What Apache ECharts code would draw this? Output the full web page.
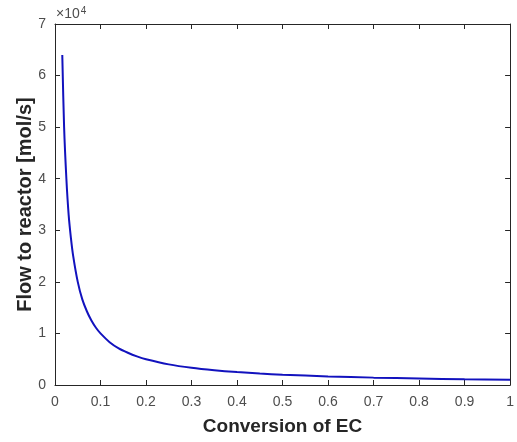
<!DOCTYPE html>
<html><head><meta charset="utf-8">
<script src="https://cdn.jsdelivr.net/npm/echarts@6/dist/echarts.min.js"></script>
<style>html,body{margin:0;padding:0;background:#fff}#c{width:517px;height:442px}</style>
</head><body><div id="c"></div>
<script>
const conversion = [0.016, 0.02, 0.025, 0.03, 0.035, 0.04, 0.05, 0.06, 0.07, 0.08, 0.09, 0.1, 0.12, 0.14, 0.16, 0.18, 0.2, 0.25, 0.3, 0.35, 0.4, 0.45, 0.5, 0.6, 0.7, 0.8, 0.9, 1.0];
const flow = [64000, 50000, 40000, 33000, 28500, 25000, 20000, 16600, 14300, 12500, 11100, 10000, 8300, 7100, 6250, 5550, 5000, 4000, 3330, 2860, 2500, 2220, 2000, 1670, 1430, 1250, 1110, 1000];
const xTicks = ['0','0.1','0.2','0.3','0.4','0.5','0.6','0.7','0.8','0.9','1'];
const yTicks = ['0','1','2','3','4','5','6','7'];

const axisColor = '#262626';
const labelColor = '#4d4d4d';
const font = 'Liberation Sans, Arial, sans-serif';
const chart = echarts.init(document.getElementById('c'));
const common = {
  axisLine: {show: true, onZero: false, lineStyle: {color: axisColor, width: 1}},
  axisTick: {show: true, inside: true, length: 5, lineStyle: {color: axisColor}},
  splitLine: {show: false}
};
chart.setOption({
  animation: false,
  grid: {left: 55, right: 3, top: 24, bottom: 57},
  xAxis: [
    Object.assign({type: 'value', min: 0, max: 1, interval: 0.1,
      axisLabel: {color: labelColor, fontSize: 14, fontFamily: font, margin: 10,
        formatter: (v) => xTicks[Math.round(v * 10)]},
      name: 'Conversion of EC', nameLocation: 'middle', nameGap: 32,
      nameTextStyle: {fontSize: 19, fontWeight: 'bold', color: axisColor, fontFamily: font}}, common),
    Object.assign({type: 'value', position: 'top', min: 0, max: 1, interval: 0.1,
      axisLabel: {show: false}}, common)
  ],
  yAxis: [
    Object.assign({type: 'value', min: 0, max: 70000, interval: 10000,
      axisLabel: {color: labelColor, fontSize: 14, fontFamily: font, margin: 9,
        formatter: (v) => yTicks[Math.round(v / 10000)]},
      name: 'Flow to reactor [mol/s]', nameLocation: 'middle', nameGap: 20,
      nameMoveOverlap: false,
      nameTextStyle: {fontSize: 20, fontWeight: 'bold', color: axisColor, fontFamily: font}}, common),
    Object.assign({type: 'value', position: 'right', min: 0, max: 70000, interval: 10000,
      axisLabel: {show: false}}, common)
  ],
  series: [{
    type: 'line', data: conversion.map((x, i) => [x, flow[i]]),
    smooth: 0.3, showSymbol: false,
    lineStyle: {color: '#1212be', width: 2}
  }],
  graphic: [{
    type: 'text', left: 56, top: 6,
    style: {
      text: '×10{s|4}', fill: labelColor, font: '14px ' + font,
      rich: {s: {fontSize: 10, verticalAlign: 'top', padding: [0, 0, 7, 1], fill: labelColor}}
    }
  }]
});
</script></body></html>
